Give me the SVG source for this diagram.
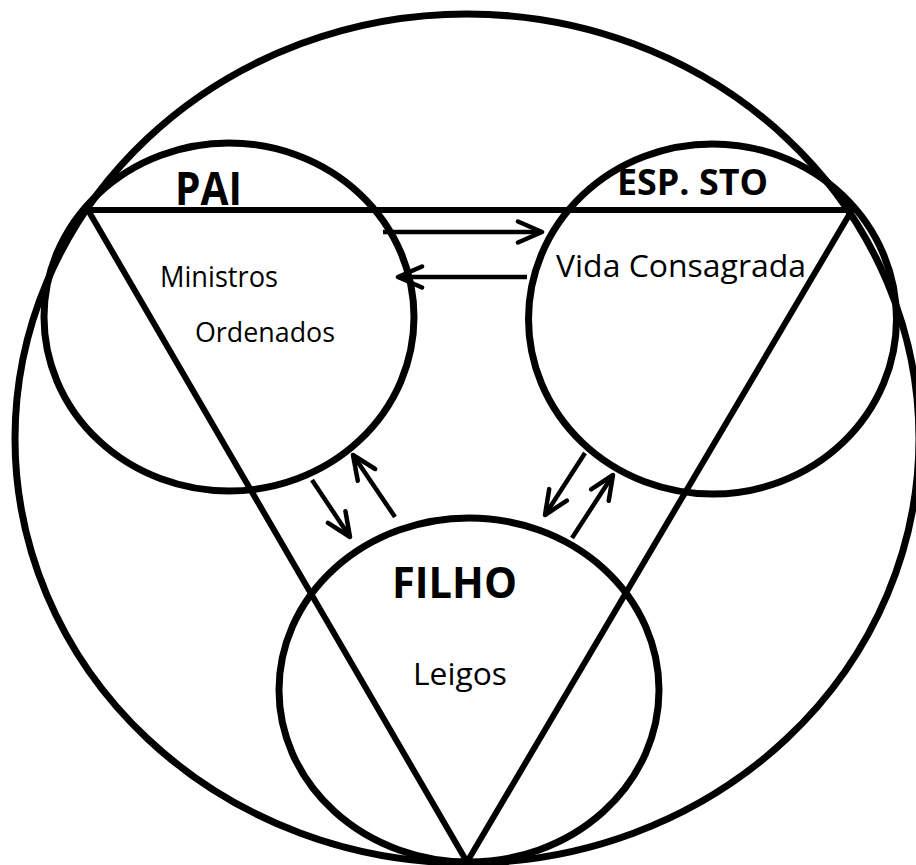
<svg xmlns="http://www.w3.org/2000/svg" width="916" height="865" viewBox="0 0 916 865">
  <style>
    .shape { fill: none; stroke: #000; stroke-width: 7; }
    .tri { fill: none; stroke: #000; stroke-width: 6; stroke-linejoin: miter; }
    .arrow { fill: none; stroke: #000; stroke-width: 4.5; marker-end: url(#chev); }
    .title { font-family: "Open Sans", "Noto Sans", "Liberation Sans", sans-serif; font-weight: bold; fill: #000; }
    .label { font-family: "Open Sans", "Noto Sans", "Liberation Sans", sans-serif; fill: #000; }
  </style>
  <defs>
    <marker id="chev" viewBox="0 0 30 26" refX="27" refY="13" markerWidth="30" markerHeight="26" markerUnits="userSpaceOnUse" orient="auto">
      <path d="M3,2.5 L27,13 L3,23.5" fill="none" stroke="#000" stroke-width="4.5" stroke-linecap="round" stroke-linejoin="round"/>
    </marker>
  </defs>
  <rect width="916" height="865" fill="#fff"/>

  <g id="outer">
    <ellipse class="shape" cx="467" cy="438.5" rx="452" ry="424.5"/>
  </g>
  <g id="triangle">
    <polygon class="tri" points="88,210 852,210 467,862"/>
  </g>

  <g id="pai">
    <ellipse class="shape" cx="229" cy="317" rx="185" ry="174"/>
    <text class="title" x="175" y="205" font-size="47" textLength="67" lengthAdjust="spacingAndGlyphs">PAI</text>
    <text class="label" x="160" y="287" font-size="29" textLength="118" lengthAdjust="spacingAndGlyphs">Ministros</text>
    <text class="label" x="195" y="342" font-size="28" textLength="140" lengthAdjust="spacingAndGlyphs">Ordenados</text>
  </g>

  <g id="espsto">
    <ellipse class="shape" cx="712.5" cy="319" rx="184" ry="175"/>
    <text class="title" x="617" y="195" font-size="36" textLength="151" lengthAdjust="spacingAndGlyphs">ESP. STO</text>
    <text class="label" x="556" y="277" font-size="31" textLength="250" lengthAdjust="spacingAndGlyphs">Vida Consagrada</text>
  </g>

  <g id="filho">
    <ellipse class="shape" cx="469" cy="690" rx="190" ry="172"/>
    <text class="title" x="392" y="598" font-size="43" textLength="125" lengthAdjust="spacingAndGlyphs">FILHO</text>
    <text class="label" x="413" y="685" font-size="31" textLength="94" lengthAdjust="spacingAndGlyphs">Leigos</text>
  </g>

  <g id="connectors">
    <line class="arrow" x1="383" y1="232" x2="542" y2="232"/>
    <line class="arrow" x1="527" y1="277" x2="398" y2="277"/>
    <line class="arrow" x1="312" y1="480" x2="350" y2="537"/>
    <line class="arrow" x1="395" y1="517" x2="353" y2="455"/>
    <line class="arrow" x1="585" y1="453" x2="545" y2="515"/>
    <line class="arrow" x1="572" y1="538" x2="613" y2="475"/>
  </g>
</svg>
